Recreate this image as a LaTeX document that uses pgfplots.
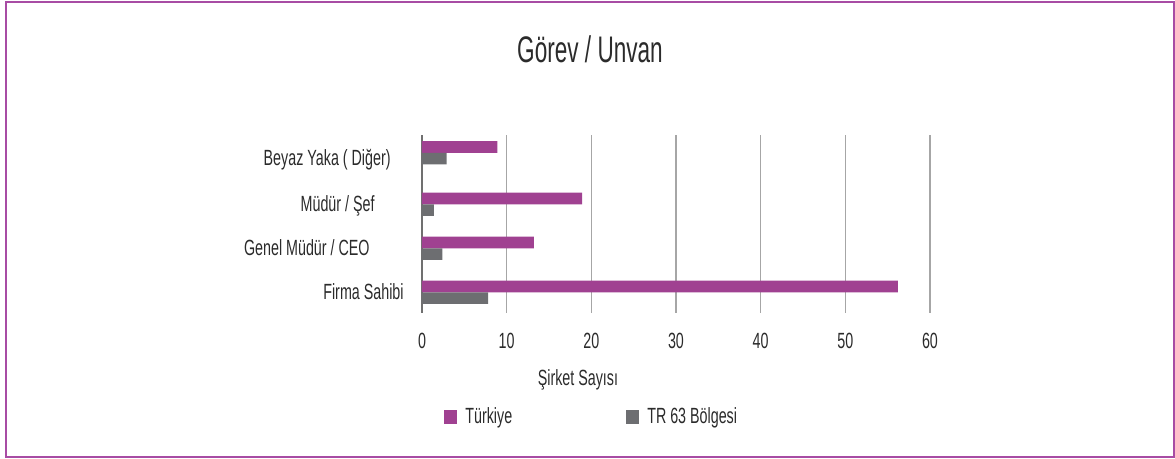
\documentclass[border=0pt]{standalone}
\usepackage{pgfplots}
\pgfplotsset{compat=1.18}
\usepackage{fontspec}
\setmainfont{Liberation Sans}[FakeStretch=0.65]
\newfontfamily\titlefont{Liberation Sans}[FakeStretch=0.61]
\definecolor{purp}{HTML}{A04191}
\definecolor{gry}{HTML}{6D6E71}
\definecolor{frm}{HTML}{A84CA4}
\definecolor{txt}{HTML}{2B2B2B}
\definecolor{grd}{HTML}{A6A6A6}
\definecolor{axl}{HTML}{707070}
\begin{document}
\color{txt}
\begin{tikzpicture}
\useasboundingbox (0,0) rectangle (587.5pt,229.5pt);
\draw[frm, line width=1pt] (3pt,0.75pt) rectangle (586.75pt,228.25pt);
\node[anchor=base, font=\titlefont\fontsize{18.5pt}{20pt}\selectfont, text=txt] at (295pt,198pt) {Görev / Unvan};
\begin{axis}[
  at={(211pt,73pt)}, anchor=south west,
  scale only axis, width=254pt, height=89pt,
  xbar, bar width=0.2636,
  xmin=0, xmax=60, ymin=-0.47, ymax=3.575,
  xtick={0,10,...,60},
  ytick={0,1,2,3.17},
  yticklabels={{Firma Sahibi},{Genel Müdür / CEO\rule{17pt}{0pt}},{Müdür / Şef\rule{14.5pt}{0pt}},{\raisebox{-2.4pt}{Beyaz Yaka ( Diğer)}\rule{6.5pt}{0pt}}},
  /pgf/number format/assume math mode=true,
  tick label style={font=\fontsize{11pt}{13pt}\selectfont, text=txt},
  xticklabel style={anchor=north, inner sep=0pt, yshift=-10pt},
  yticklabel style={anchor=base east, inner sep=0pt, xshift=-9pt, yshift=-3.8pt},
  major tick length=0pt,
  axis x line*=bottom, axis y line*=left,
  x axis line style={draw=none},
  y axis line style={axl, line width=0.75pt},
  xmajorgrids, grid style={grd, line width=0.75pt},
  xlabel={Şirket Sayısı},
  xlabel style={at={(axis description cs:0.307,-0.410)}, anchor=base, inner sep=0pt, font=\fontsize{11pt}{13pt}\selectfont, text=txt},
  legend columns=2,
  legend style={at={(axis description cs:0.0433,-0.587)}, anchor=west, draw=none, fill=none, inner sep=0pt,
    nodes={inner sep=0pt, font=\fontsize{11pt}{13pt}\selectfont, text=txt},
    /tikz/every odd column/.style={column sep=4pt},
    /tikz/every even column/.style={column sep=57pt}},
]
\addplot[fill=purp, draw=none, bar shift=0.1318,
  legend image code/.code={\fill[purp] (0pt,-3.5pt) rectangle (6.5pt,3.5pt);}]
  coordinates {(56.2,0) (13.2,1) (18.9,2) (8.9,3.17)};
\addplot[fill=gry, draw=none, bar shift=-0.1318,
  legend image code/.code={\fill[gry] (0pt,-3.5pt) rectangle (6.5pt,3.5pt);}]
  coordinates {(7.8,0) (2.4,1) (1.4,2) (2.9,3.17)};
\legend{Türkiye, TR 63 Bölgesi}
\end{axis}
\end{tikzpicture}
\end{document}
